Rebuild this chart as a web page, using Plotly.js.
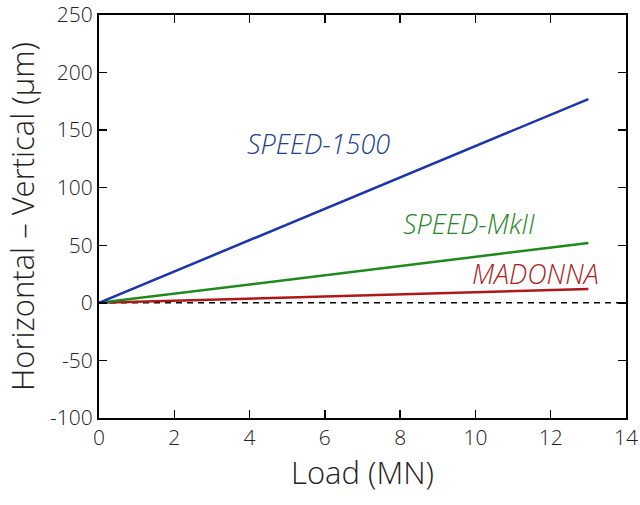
<!DOCTYPE html>
<html><head><meta charset="utf-8">
<script src="https://cdn.plot.ly/plotly-3.0.1.min.js"></script>
<style>html,body{margin:0;padding:0;background:#fff}#plot{width:640px;height:505px}</style>
</head><body><div id="plot"></div>
<script>
var load = [0, 13];
var speed1500 = [0, 177];
var speedMkII = [0, 52];
var madonna = [0, 12];
var zeroX = [0, 14];
var zeroY = [0, 0];
var yTickVals = [-100, -50, 0, 50, 100, 150, 200, 250];
var yTickText = ["-100", "-50", "0", "50", "100", "150", "200", "250"];
var xTickVals = [0, 2, 4, 6, 8, 10, 12, 14];
var xTickText = ["0", "2", "4", "6", "8", "10", "12", "14"];
var labels = ["SPEED-1500", "SPEED-MkII", "MADONNA"];
var labelX = [5.82, 9.83, 11.59];
var labelY = [138.6, 68.7, 25.5];
var colors = ["#1a33b0", "#1e8a1e", "#b01818"];
var textColors = ["#22408c", "#288628", "#ac1c1c"];
var FONT = "Open Sans, Noto Sans, sans-serif";

var traces = [
  {x: zeroX, y: zeroY, mode: "lines", line: {color: "#000", width: 1.5, dash: "6px,5px"}, hoverinfo: "skip"},
  {x: load, y: madonna, mode: "lines", line: {color: colors[2], width: 2.5}},
  {x: load, y: speedMkII, mode: "lines", line: {color: colors[1], width: 2.5}},
  {x: load, y: speed1500, mode: "lines", line: {color: colors[0], width: 2.5}}
];
var annotations = labels.map(function(t, i){
  return {x: labelX[i], y: labelY[i], xref: "x", yref: "y", text: "<i>" + t + "</i>", showarrow: false,
    font: {family: FONT, size: 27, weight: 300, color: textColors[i]}};
});
var axisCommon = {showgrid: false, zeroline: false, showline: true, linecolor: "#000", linewidth: 2,
  mirror: "ticks", ticks: "inside", ticklen: 8, tickwidth: 1.5, tickcolor: "#000",
  ticklabeloverflow: "allow",
  tickfont: {family: FONT, size: 21, weight: 300, color: "#222"}};
var layout = {
  width: 640, height: 505,
  margin: {l: 99, r: 14, t: 15, b: 87},
  paper_bgcolor: "#fff", plot_bgcolor: "#fff",
  showlegend: false,
  font: {family: FONT},
  xaxis: Object.assign({}, axisCommon, {range: [0, 14], tickmode: "array", tickvals: xTickVals, ticktext: xTickText,
    title: {text: "Load (MN)", font: {family: FONT, size: 31, weight: 300, color: "#222"}, standoff: 12}}),
  yaxis: Object.assign({}, axisCommon, {range: [-100, 250], tickmode: "array", tickvals: yTickVals, ticktext: yTickText,
    title: {text: "Horizontal – Vertical (µm)", font: {family: FONT, size: 31, weight: 300, color: "#222"}, standoff: 6}}),
  annotations: annotations
};
Plotly.newPlot("plot", traces, layout, {displayModeBar: false, staticPlot: true});
</script></body></html>
